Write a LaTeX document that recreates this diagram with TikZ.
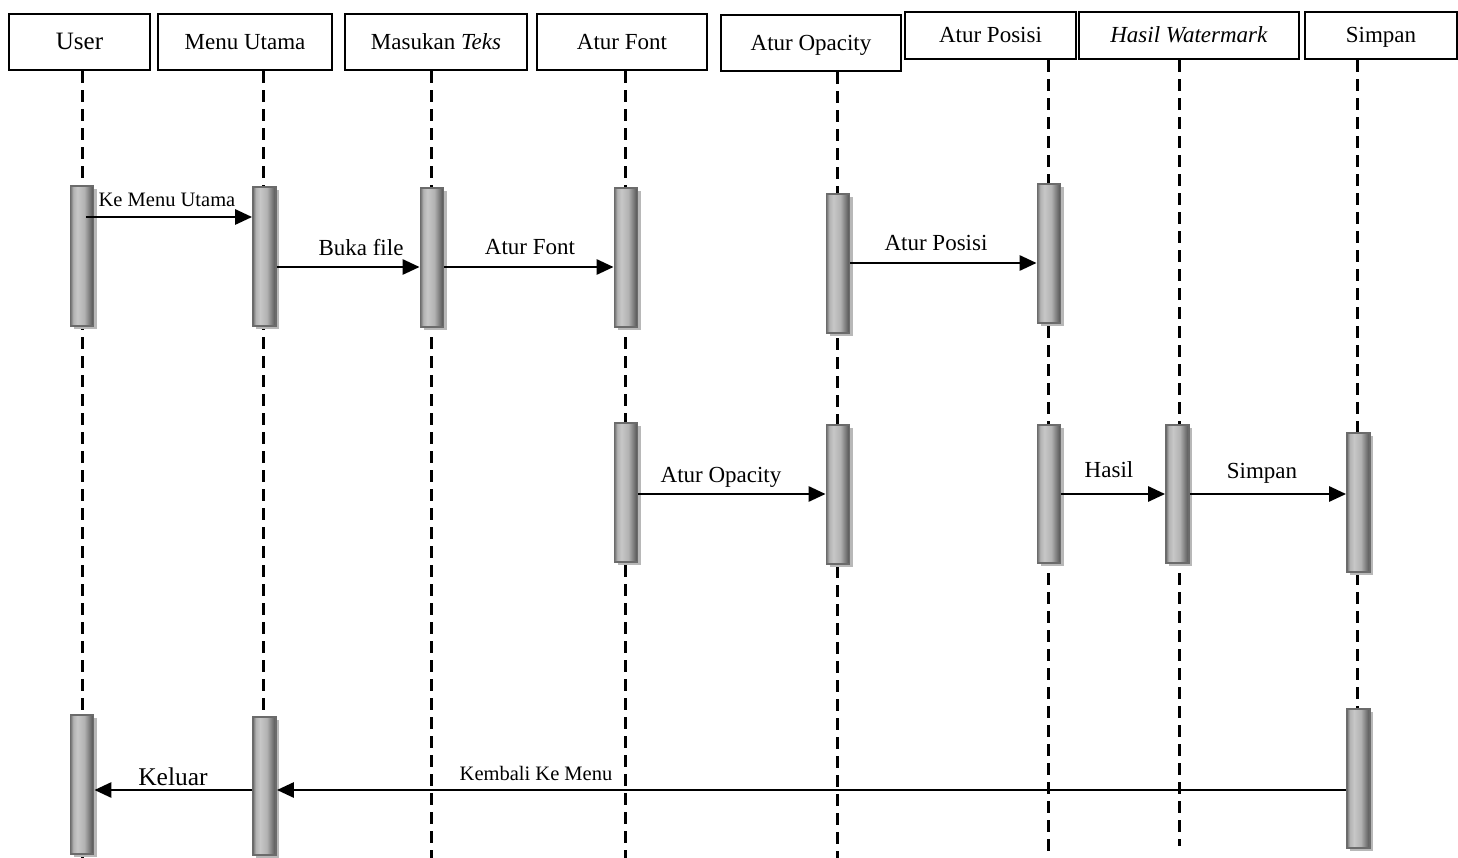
\documentclass[tikz,border=0pt]{standalone}
\usepackage{fontspec}
\setmainfont{Liberation Serif}
\usetikzlibrary{arrows.meta,shadows,calc}
\pgfdeclarehorizontalshading{barshade}{100bp}{color(0bp)=(black!55); color(25bp)=(black!55); color(31bp)=(black!30); color(40bp)=(black!22); color(55bp)=(black!30); color(68bp)=(black!55); color(75bp)=(black!68); color(100bp)=(black!68)}
\tikzset{
  hdr/.style={draw=black, line width=2.2, inner sep=0, text height=15, text depth=0, font=\fontsize{23}{28}\selectfont},
  bar/.style={draw=black!58, line width=1.8, minimum width=23, inner sep=0, shade, shading=barshade,
              drop shadow={shadow xshift=3, shadow yshift=3, fill=black!28, opacity=1}},
  life/.style={line width=3, dash pattern=on 12 off 7},
  msg/.style={line width=2.8, -{Triangle[length=17pt,width=15pt]}},
  lbl/.style={anchor=base, inner sep=0, font=\fontsize{23}{28}\selectfont},
  slbl/.style={anchor=base, inner sep=0, font=\fontsize{20.5}{24}\selectfont}
}
\begin{document}
\begin{tikzpicture}[x=1pt,y=-1pt]
\useasboundingbox (0,0) rectangle (1458,858);
% headers
\node[hdr, minimum width=141, minimum height=56, font=\fontsize{25}{30}\selectfont, text height=16] (hU) at (79.5,42) {User};
\node[hdr, minimum width=174, minimum height=56] (hM) at (245,42) {Menu Utama};
\node[hdr, minimum width=182, minimum height=56] (hT) at (436,42) {Masukan \textit{Teks}};
\node[hdr, minimum width=170, minimum height=56] (hF) at (622,42) {Atur Font};
\node[hdr, minimum width=180, minimum height=56] (hO) at (811,43) {Atur Opacity};
\node[hdr, minimum width=171, minimum height=47] (hP) at (990.5,35.5) {Atur Posisi};
\node[hdr, minimum width=220, minimum height=47] (hH) at (1189,35.5) {\textit{Hasil Watermark}};
\node[hdr, minimum width=152, minimum height=47] (hS) at (1381,35.5) {Simpan};
% lifelines
\draw[life] (hU.south -| 82,0) -- (82,858);
\draw[life] (hM.south -| 263,0) -- (263,858);
\draw[life] (hT.south -| 431,0) -- (431,858);
\draw[life] (hF.south -| 625,0) -- (625,858);
\draw[life] (hO.south -| 837,0) -- (837,858);
\draw[life] (hP.south -| 1048,0) -- (1048,858);
\draw[life] (hH.south -| 1179,0) -- (1179,846);
\draw[life] (hS.south -| 1357,0) -- (1357,858);
% activation bars
\node[bar, minimum height=140] (u1) at (82,256) {};
\node[bar, minimum height=139] (m1) at (264.5,256.5) {};
\node[bar, minimum height=139] (t1) at (432,257.5) {};
\node[bar, minimum height=139] (f1) at (626,257.5) {};
\node[bar, minimum height=139] (o1) at (838,263.5) {};
\node[bar, minimum height=139] (p1) at (1049,253.5) {};
\node[bar, minimum height=139] (f2) at (626,492.5) {};
\node[bar, minimum height=139] (o2) at (838,494.5) {};
\node[bar, minimum height=138] (p2) at (1049,494) {};
\node[bar, minimum height=138] (h2) at (1177.5,494) {};
\node[bar, minimum height=139] (s2) at (1358.5,502.5) {};
\node[bar, minimum height=139] (u3) at (82,784.5) {};
\node[bar, minimum height=138] (m3) at (264.5,786) {};
\node[bar, minimum height=139] (s3) at (1358.5,778.5) {};
% messages
\draw[msg] ($(u1.center |- 0,217)+(4,0)$) -- (m1.west |- 0,217);
\node[slbl] (l1) at (167,207) {Ke Menu Utama};
\draw[msg] (m1.east |- 0,267) -- (t1.west |- 0,267);
\node[lbl] (l2) at (361,256) {Buka file};
\draw[msg] (t1.east |- 0,267) -- (f1.west |- 0,267);
\node[lbl] (l3) at (530,255) {Atur Font};
\draw[msg] (o1.east |- 0,263) -- (p1.west |- 0,263);
\node[lbl] (l4) at (936,251) {Atur Posisi};
\draw[msg] (f2.east |- 0,494) -- (o2.west |- 0,494);
\node[lbl] (l5) at (721,482) {Atur Opacity};
\draw[msg] (p2.east |- 0,494) -- (h2.west |- 0,494);
\node[lbl] (l6) at (1109,477) {Hasil};
\draw[msg] (h2.east |- 0,494) -- (s2.west |- 0,494);
\node[lbl] (l7) at (1262,478) {Simpan};
\draw[msg] (s3.west |- 0,790) -- (m3.east |- 0,790);
\node[slbl] (l8) at (536,780) {Kembali Ke Menu};
\draw[msg] (m3.west |- 0,790) -- (u3.east |- 0,790);
\node[lbl, font=\fontsize{25.5}{30}\selectfont] (l9) at (173,785) {Keluar};
\end{tikzpicture}
\end{document}
